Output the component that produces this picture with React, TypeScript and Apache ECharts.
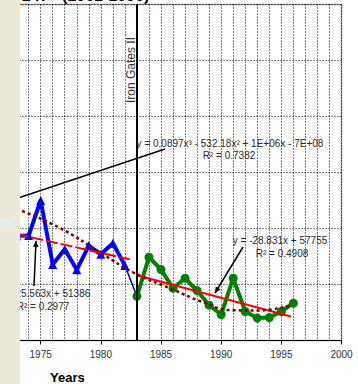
import React, { useEffect, useRef } from "react";
import * as echarts from "echarts";

const blueYears = [1973, 1974, 1975, 1976, 1977, 1978, 1979, 1980, 1981, 1982];
const blueValues = [935, 937, 1250, 679, 815, 631, 848, 770, 869, 670];
const greenYears = [1983, 1984, 1985, 1986, 1987, 1988, 1989, 1990, 1991, 1992, 1993, 1994, 1995, 1996];
const greenValues = [395, 744, 634, 467, 556, 446, 315, 232, 556, 259, 200, 205, 259, 333];
const connectorYears = [1982, 1983];
const connectorValues = [670, 395];
const blueTrendYears = [1973, 1982.4];
const blueTrendValues = [950, 725];
const greenTrendYears = [1983, 1995.8];
const greenTrendValues = [583, 214];
const polyYears = [1973, 1976.5, 1980.1, 1982.7, 1986, 1988.25, 1991, 1993, 1995.8];
const polyValues = [1175, 1010, 775, 607, 455, 352, 270, 268, 315];
const damYear = 1983;
const xTickValues = [1975, 1980, 1985, 1990, 1995, 2000];

const pairs = (xs: number[], ys: number[]) => xs.map((x, i) => [x, ys[i]]);

const FONT = "Arial, 'Liberation Sans', sans-serif";

function arrow(x1: number, y1: number, x2: number, y2: number, head: boolean) {
  const els: any[] = [
    {
      type: "line",
      shape: { x1, y1, x2, y2 },
      style: { stroke: "#000", lineWidth: 1.5 },
      z: 50,
    },
  ];
  if (head) {
    const dx = x2 - x1;
    const dy = y2 - y1;
    const len = Math.sqrt(dx * dx + dy * dy);
    const ux = dx / len;
    const uy = dy / len;
    const bx = x2 - 6 * ux;
    const by = y2 - 6 * uy;
    els.push({
      type: "polygon",
      shape: {
        points: [
          [x2, y2],
          [bx + 2.8 * uy, by - 2.8 * ux],
          [bx - 2.8 * uy, by + 2.8 * ux],
        ],
      },
      style: { fill: "#000" },
      z: 50,
    });
  }
  return els;
}

function label(text: string, x: number, y: number) {
  return {
    type: "text",
    x,
    y,
    z: 50,
    style: {
      text,
      fill: "#2a2a2a",
      font: `10px ${FONT}`,
      align: "center",
      verticalAlign: "middle",
    },
  };
}

export default function App() {
  const ref = useRef<HTMLDivElement>(null);
  useEffect(() => {
    if (!ref.current) return;
    const chart = echarts.init(ref.current, undefined, { renderer: "svg" });
    const dotted = { color: "#000", width: 1, type: [1, 2] as any };
    chart.setOption({
      animation: false,
      grid: {
        left: -19.5,
        right: 16.5,
        top: 4.5,
        bottom: 43.5,
        outerBoundsMode: "none",
        containLabel: false,
        show: true,
        borderColor: "#9a9a9a",
        borderWidth: 1.5,
      },
      xAxis: {
        type: "value",
        min: 1970,
        max: 2000,
        interval: 5,
        axisLine: { lineStyle: { color: "#000", width: 1 } },
        axisTick: { show: true, length: 4, lineStyle: { color: "#000" } },
        axisLabel: {
          color: "#333",
          fontSize: 10,
          fontFamily: FONT,
          margin: 9,
          formatter: (v: number) => (xTickValues.indexOf(v) >= 0 ? String(v) : ""),
        },
        splitLine: { show: true, lineStyle: dotted },
        minorTick: { show: false, splitNumber: 5 },
        minorSplitLine: { show: true, lineStyle: dotted },
      },
      yAxis: {
        type: "value",
        min: 0,
        max: 3000,
        interval: 500,
        axisLine: { show: false },
        axisTick: { show: false },
        axisLabel: { show: false },
        splitLine: { show: true, lineStyle: dotted },
      },
      series: [
        {
          type: "line",
          data: pairs(connectorYears, connectorValues),
          symbol: "none",
          lineStyle: { color: "#000080", width: 1.5 },
          z: 2,
          markLine: {
            silent: true,
            symbol: "none",
            label: { show: false },
            lineStyle: { color: "#000", width: 2, type: "solid" },
            data: [{ xAxis: damYear }],
          },
        },
        {
          type: "line",
          data: pairs(blueYears, blueValues),
          symbol: "triangle",
          symbolSize: 9,
          itemStyle: { color: "#0000ff" },
          lineStyle: { color: "#0000ff", width: 4 },
          z: 3,
        },
        {
          type: "line",
          data: pairs(greenYears, greenValues),
          symbol: "circle",
          symbolSize: 9,
          itemStyle: { color: "#008000" },
          lineStyle: { color: "#008000", width: 4 },
          z: 3,
        },
        {
          type: "line",
          data: pairs(blueTrendYears, blueTrendValues),
          symbol: "none",
          lineStyle: { color: "#ff0000", width: 2, type: [12, 3] as any },
          z: 4,
        },
        {
          type: "line",
          data: pairs(greenTrendYears, greenTrendValues),
          symbol: "none",
          lineStyle: { color: "#ff0000", width: 2 },
          z: 4,
        },
        {
          type: "line",
          data: pairs(polyYears, polyValues),
          symbol: "none",
          smooth: true,
          lineStyle: { color: "#800000", width: 2.5, type: [3, 3] as any },
          z: 4,
        },
      ],
      graphic: [
        label("y = 0.0897x³ - 532.18x² + 1E+06x - 7E+08", 230, 143),
        label("R² = 0.7382", 229, 155),
        label("y = -28.831x + 57755", 280, 240),
        label("R² = 0.4908", 282, 253),
        label("y = -25.563x + 51386", 43, 293),
        label("R² = 0.2977", 43, 306),
        ...arrow(165, 149, 0, 204, false),
        ...arrow(243, 247, 215, 293, true),
        ...arrow(34, 286, 36, 241, true),
        {
          type: "text",
          x: 131,
          y: 70,
          rotation: Math.PI / 2,
          z: 50,
          style: {
            text: "Iron Gates II",
            fill: "#333",
            font: `12px ${FONT}`,
            align: "center",
            verticalAlign: "middle",
          },
        },
        {
          type: "rect",
          shape: { x: 0, y: 0, width: 20, height: 384 },
          style: { fill: "#ECE9D8" },
          z: 100,
        },
        {
          type: "rect",
          shape: { x: 0, y: 219, width: 14, height: 7 },
          style: { fill: "#E4ECF4" },
          z: 101,
        },
        {
          type: "text",
          x: 22,
          y: -4.3,
          z: 102,
          style: {
            text: "247   (1961-1996)",
            fill: "#000",
            font: `bold 16px ${FONT}`,
            align: "left",
            verticalAlign: "middle",
          },
        },
        {
          type: "text",
          x: 50,
          y: 377,
          z: 102,
          style: {
            text: "Years",
            fill: "#000",
            font: `bold 13px ${FONT}`,
            align: "left",
            verticalAlign: "middle",
          },
        },
      ],
    });
    return () => chart.dispose();
  }, []);
  return (
    <div
      ref={ref}
      style={{ position: "absolute", left: 0, top: 0, width: 358, height: 384 }}
    />
  );
}
